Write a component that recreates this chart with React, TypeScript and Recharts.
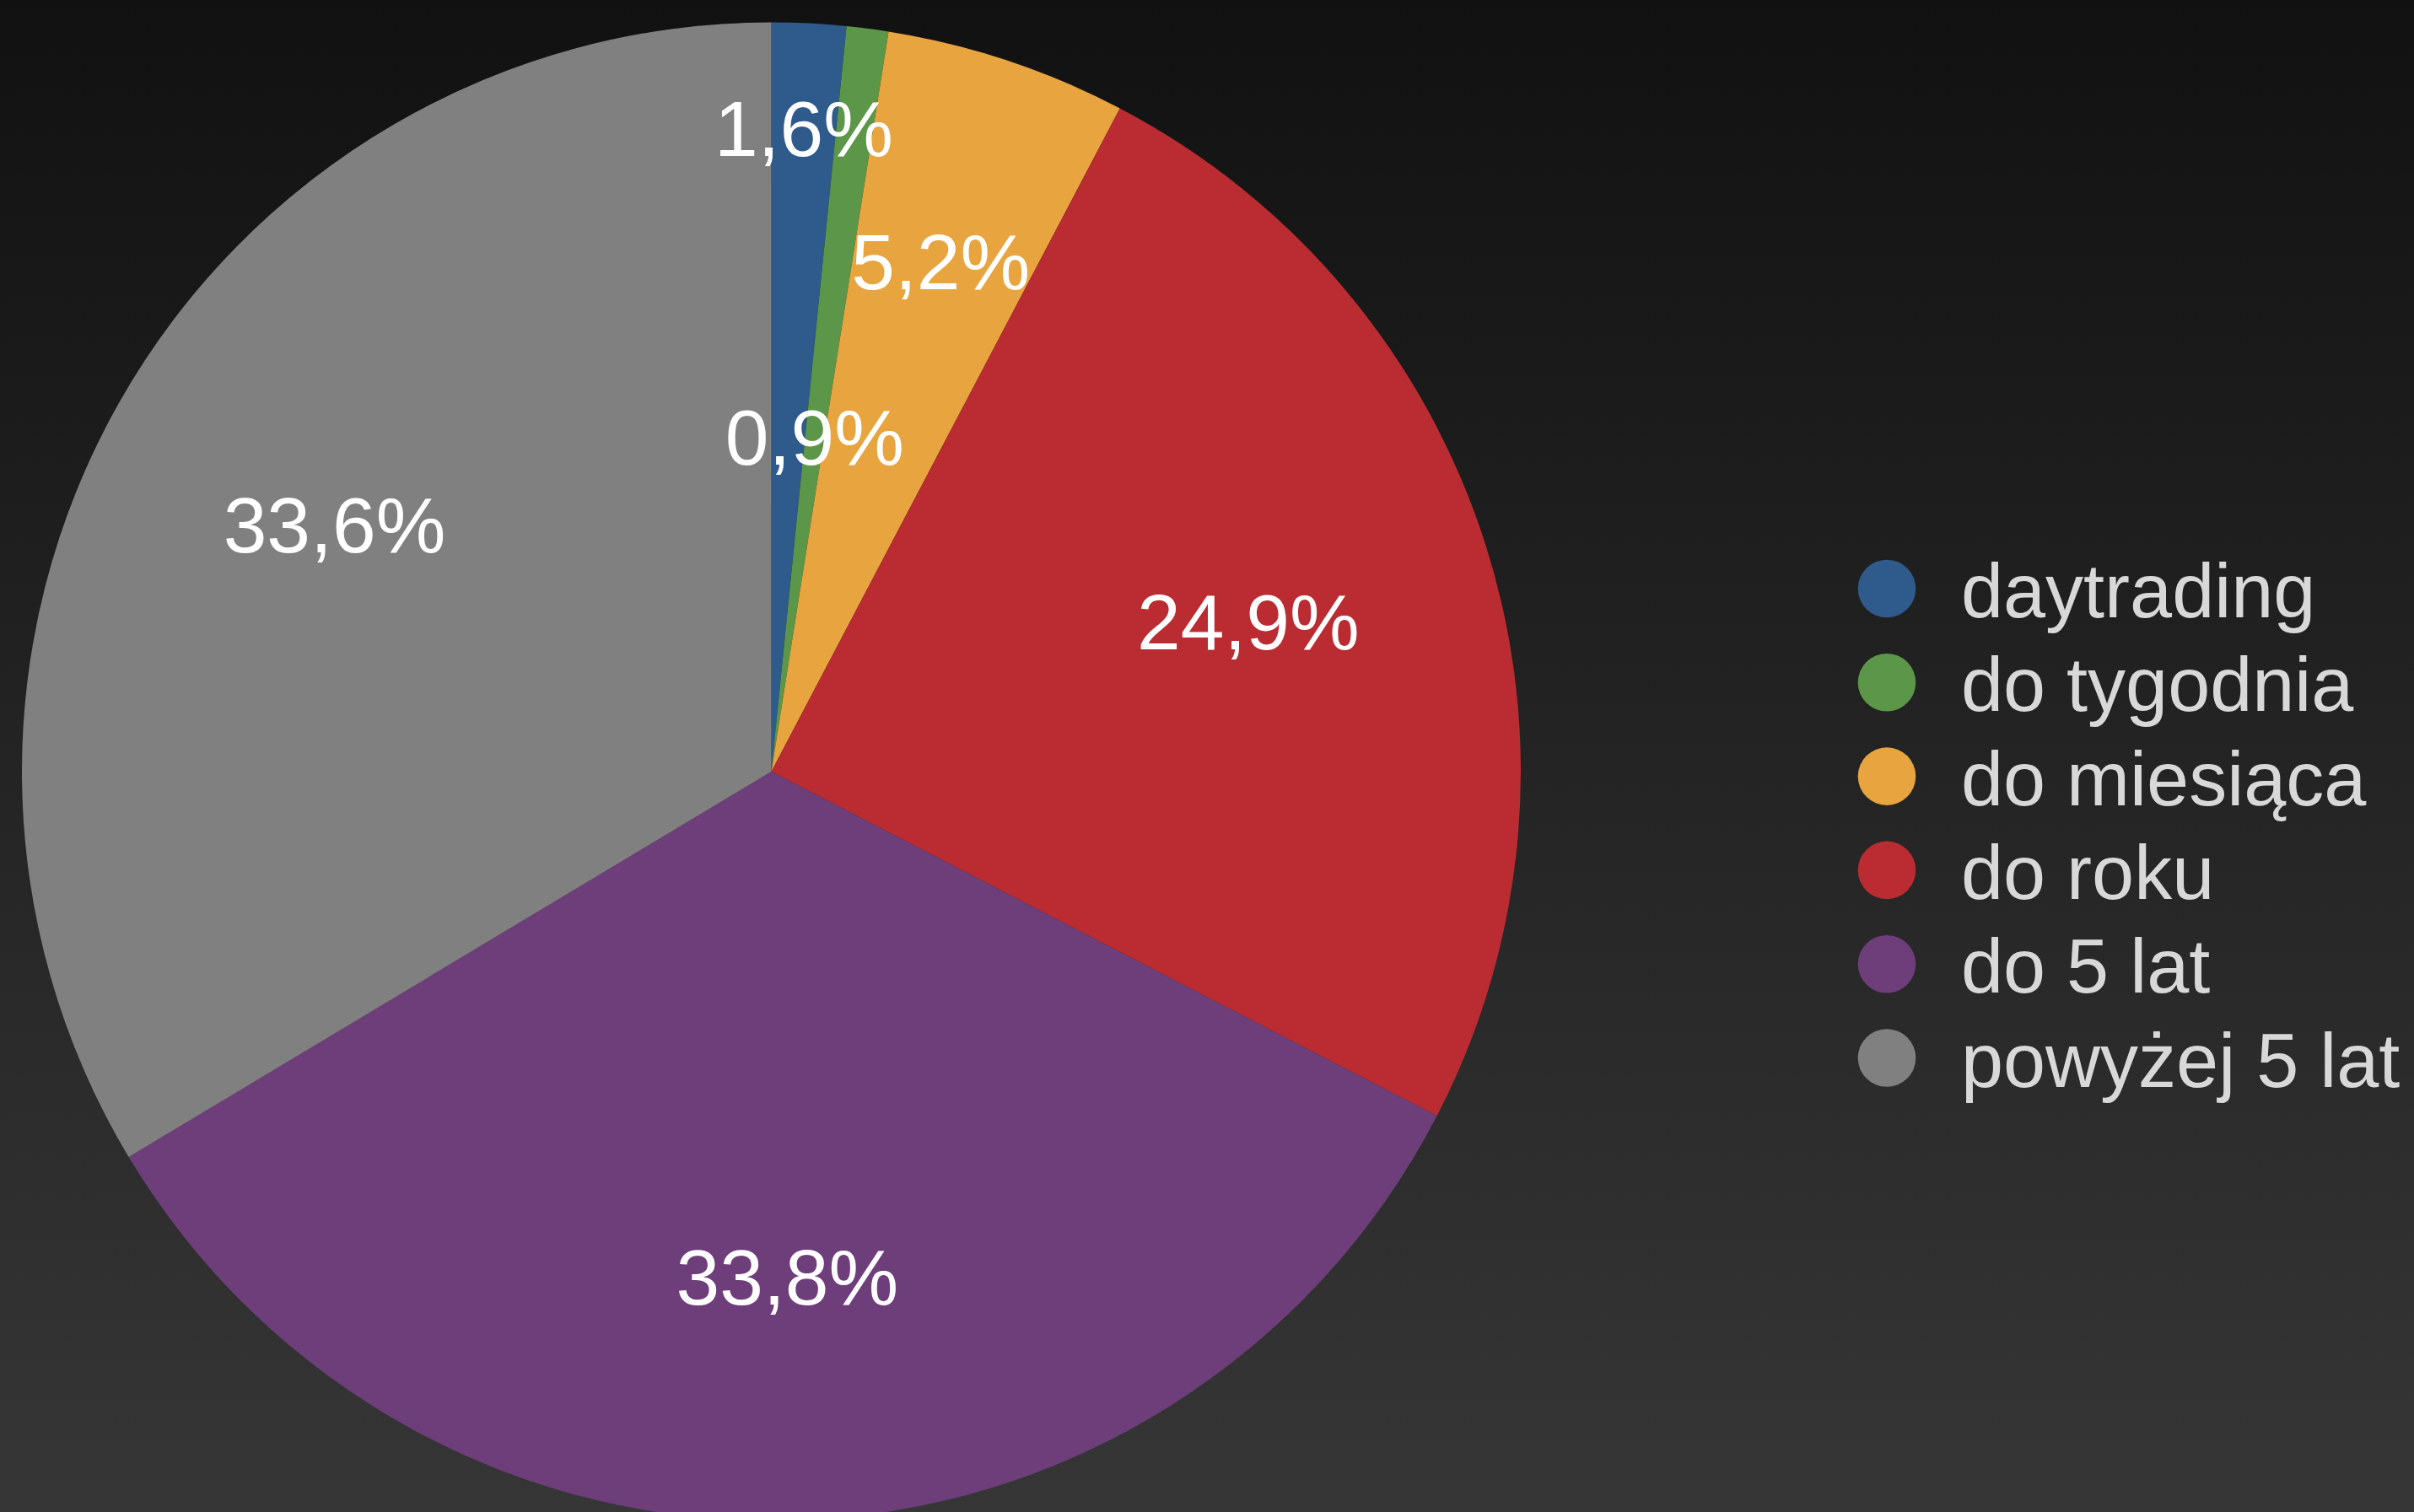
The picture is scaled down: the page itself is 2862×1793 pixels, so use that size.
import { PieChart, Pie, Cell, Legend } from "recharts";

const categories = [
  "daytrading",
  "do tygodnia",
  "do miesiąca",
  "do roku",
  "do 5 lat",
  "powyżej 5 lat",
];
const shares = [1.6, 0.9, 5.2, 24.9, 33.8, 33.6];
const colors = ["#2e5a8c", "#5c9749", "#e7a43f", "#ba2c31", "#6e3e7b", "#7f807f"];

// how far out each percent label sits (fraction of radius), like the original
const labelRadius = [0.86, 0.45, 0.717, 0.667, 0.675, 0.67];

const data = categories.map((name, i) => ({ name, value: shares[i] }));

const FONT = '"Liberation Sans", Arial, Helvetica, sans-serif';
const RAD = Math.PI / 180;

const renderLabel = (props: any) => {
  const { cx, cy, midAngle, outerRadius, value, index } = props;
  const r = outerRadius * labelRadius[index];
  const x = cx + r * Math.cos(-midAngle * RAD);
  const y = cy + r * Math.sin(-midAngle * RAD);
  return (
    <text
      x={x}
      y={y + 33}
      fill="#ffffff"
      textAnchor="middle"
      fontFamily={FONT}
      fontSize={93}
    >
      {value.toFixed(1).replace(".", ",") + "%"}
    </text>
  );
};

const LegendBox = () => (
  <svg width={660} height={700}>
    {categories.map((name, i) => (
      <g key={name}>
        <circle cx={35} cy={58 + i * 111.3} r={34.3} fill={colors[i]} />
        <text
          x={123}
          y={92 + i * 111.3}
          fill="#d8d8d8"
          fontFamily={FONT}
          fontSize={90}
        >
          {name}
        </text>
      </g>
    ))}
  </svg>
);

export default function App() {
  return (
    <div
      style={{
        width: 2862,
        height: 1793,
        overflow: "hidden",
        background: "linear-gradient(to bottom, #111111 0%, #363636 100%)",
      }}
    >
      <style>{`body{margin:0}`}</style>
      <PieChart width={2862} height={1793}>
        <Pie
          data={data}
          dataKey="value"
          nameKey="name"
          cx={909.5}
          cy={910}
          outerRadius={888.5}
          startAngle={90}
          endAngle={-270}
          stroke="none"
          label={renderLabel}
          labelLine={false}
          isAnimationActive={false}
        >
          {data.map((d, i) => (
            <Cell key={d.name} fill={colors[i]} />
          ))}
        </Pie>
        <Legend
          content={() => <LegendBox />}
          wrapperStyle={{ left: 2202, top: 640, width: 660 }}
        />
      </PieChart>
    </div>
  );
}
